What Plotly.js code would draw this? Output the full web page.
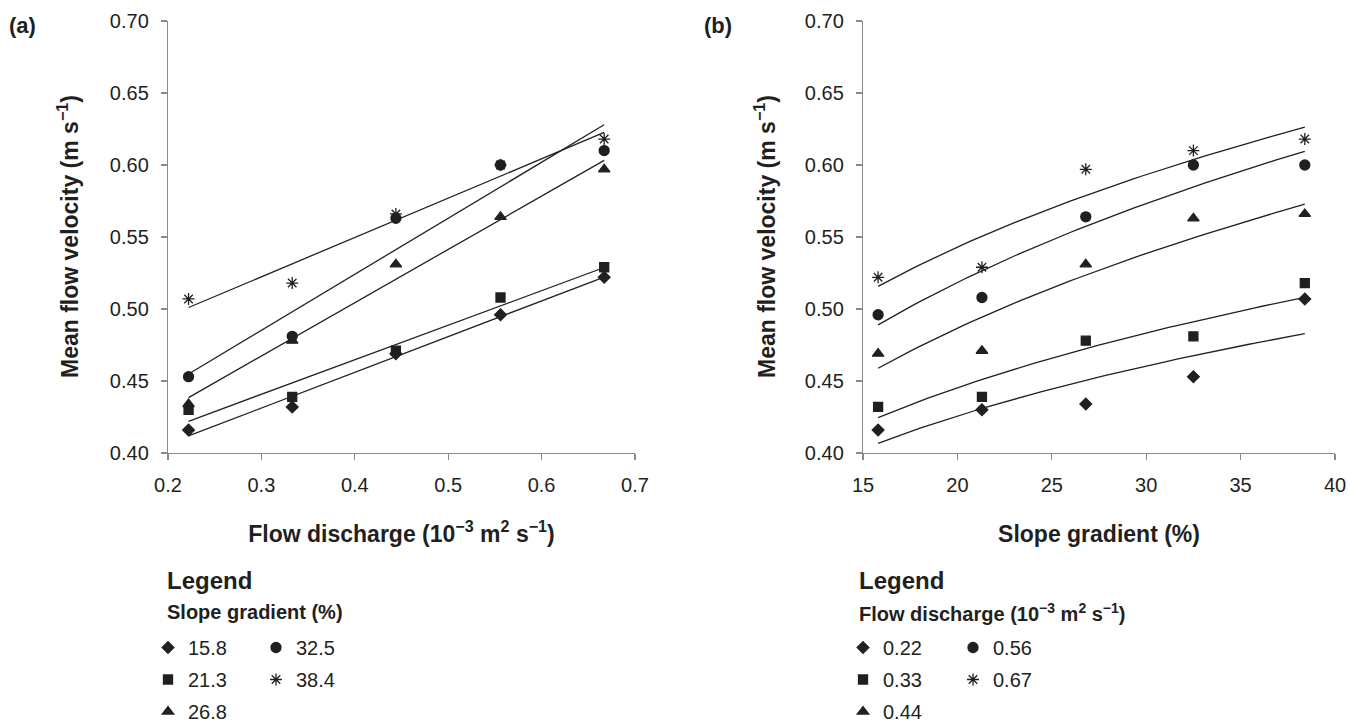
<!DOCTYPE html>
<html>
<head>
<meta charset="utf-8">
<script src="https://cdn.plot.ly/plotly-3.0.1.min.js"></script>
<style>html,body{margin:0;padding:0;background:#fff;}#chart{width:1350px;height:723px;}</style>
</head>
<body>
<div id="chart"></div>
<script>
// ---- data ----
const discharge = [0.222, 0.333, 0.444, 0.556, 0.667];      // 10^-3 m2 s-1
const slopeGradient = [15.8, 21.3, 26.8, 32.5, 38.4];       // %
// mean flow velocity (m s-1) for each slope gradient, across discharges
const vSlope158 = [0.416, 0.432, 0.469, 0.496, 0.522];
const vSlope213 = [0.430, 0.439, 0.471, 0.508, 0.529];
const vSlope268 = [0.434, 0.478, 0.531, 0.564, 0.597];
const vSlope325 = [0.453, 0.481, 0.563, 0.600, 0.610];
const vSlope384 = [0.507, 0.518, 0.566, 0.600, 0.618];
const slopeLabels = ['15.8', '21.3', '26.8', '32.5', '38.4'];
const dischargeLabels = ['0.22', '0.33', '0.44', '0.56', '0.67'];
const yTicks = [0.40, 0.45, 0.50, 0.55, 0.60, 0.65, 0.70];
const xTicksA = [0.2, 0.3, 0.4, 0.5, 0.6, 0.7];
const xTicksB = [15, 20, 25, 30, 35, 40];

// ---- styling ----
const INK = '#231f20';
const AXC = '#8a8a8a';
const FAM = 'Liberation Sans, Arial, sans-serif';
const symbols = ['diamond', 'square', 'triangle-up', 'circle', 'asterisk-open'];
const sizes = [9, 9, 10, 10, 10];
const tickFont = {family: FAM, size: 20, color: INK};
const titleFont = {family: FAM, size: 23, color: INK, weight: 'bold'};

const bySlope = [vSlope158, vSlope213, vSlope268, vSlope325, vSlope384];
// velocity for each discharge across slope gradients (same measurements, transposed)
const byDischarge = discharge.map((_, j) => bySlope.map(row => row[j]));

function linFit(xs, ys) {
  const n = xs.length, mx = xs.reduce((a, b) => a + b) / n, my = ys.reduce((a, b) => a + b) / n;
  let sxy = 0, sxx = 0;
  for (let i = 0; i < n; i++) { sxy += (xs[i] - mx) * (ys[i] - my); sxx += (xs[i] - mx) ** 2; }
  const b = sxy / sxx; return {a: my - b * mx, b: b};
}
function powFit(xs, ys) { // y = A x^b  (least squares on logs)
  const f = linFit(xs.map(Math.log), ys.map(Math.log));
  return {A: Math.exp(f.a), b: f.b};
}

const traces = [];
const legendNames = ['legend', 'legend', 'legend', 'legend2', 'legend2'];
const legendNamesB = ['legend3', 'legend3', 'legend3', 'legend4', 'legend4'];

// panel (a): linear trend lines
bySlope.forEach((ys, i) => {
  const f = linFit(discharge, ys);
  const x0 = Math.min(...discharge), x1 = Math.max(...discharge);
  traces.push({x: [x0, x1], y: [f.a + f.b * x0, f.a + f.b * x1], mode: 'lines', xaxis: 'x', yaxis: 'y',
    line: {color: INK, width: 1.3}, showlegend: false, hoverinfo: 'skip'});
});
bySlope.forEach((ys, i) => {
  traces.push({x: discharge, y: ys, mode: 'markers', xaxis: 'x', yaxis: 'y', name: slopeLabels[i],
    legend: legendNames[i], legendgroup: 'a' + i,
    marker: {symbol: symbols[i], size: sizes[i], color: INK, line: {color: INK, width: 1.3}}});
});

// panel (b): power trend curves
const xs0 = Math.min(...slopeGradient), xs1 = Math.max(...slopeGradient);
const curveX = [];
for (let k = 0; k <= 60; k++) curveX.push(xs0 + (xs1 - xs0) * k / 60);
byDischarge.forEach((ys, j) => {
  const f = powFit(slopeGradient, ys);
  traces.push({x: curveX, y: curveX.map(x => f.A * Math.pow(x, f.b)), mode: 'lines', xaxis: 'x2', yaxis: 'y2',
    line: {color: INK, width: 1.3}, showlegend: false, hoverinfo: 'skip'});
});
byDischarge.forEach((ys, j) => {
  traces.push({x: slopeGradient, y: ys, mode: 'markers', xaxis: 'x2', yaxis: 'y2', name: dischargeLabels[j],
    legend: legendNamesB[j], legendgroup: 'b' + j,
    marker: {symbol: symbols[j], size: sizes[j], color: INK, line: {color: INK, width: 1.3}}});
});

const W = 1350, H = 723;
const px = v => v / W, py = v => 1 - v / H;

function yAxis(anchor) {
  return {domain: [py(453), py(21)], anchor: anchor, range: [0.40, 0.70], tickvals: yTicks, tickformat: '.2f',
    showline: true, linecolor: AXC, linewidth: 1.2, ticks: 'outside', ticklen: 6, tickcolor: AXC, tickwidth: 1.2,
    showgrid: false, zeroline: false, tickfont: tickFont, ticklabelstandoff: 8, automargin: false};
}
function xAxis(domain, anchor, range, ticks, fmt, title) {
  return {domain: domain, anchor: anchor, range: range, tickvals: ticks, tickformat: fmt,
    showline: true, linecolor: AXC, linewidth: 1.2, ticks: 'outside', ticklen: 6, tickcolor: AXC, tickwidth: 1.2,
    showgrid: false, zeroline: false, tickfont: tickFont, ticklabelstandoff: 8, automargin: false,
    title: {text: title, font: titleFont, standoff: 30}};
}
const legFont = {family: FAM, size: 20, color: INK};
function leg(xPix) {
  return {x: px(xPix), xref: 'container', xanchor: 'left', y: py(628), yref: 'container', yanchor: 'top',
    orientation: 'v', font: legFont,
    bgcolor: 'rgba(0,0,0,0)', borderwidth: 0, tracegroupgap: 3, itemclick: false, itemdoubleclick: false};
}
function note(text, xPix, yPix, size) {
  return {text: text, x: px(xPix), y: py(yPix), xref: 'paper', yref: 'paper', xanchor: 'left', yanchor: 'middle',
    showarrow: false, font: {family: FAM, size: size, color: INK}};
}
function yTitle(xPix) {
  return {text: '<b>Mean flow velocity (m s<sup>−1</sup>)</b>', x: px(xPix), y: py(237), xref: 'paper', yref: 'paper',
    xanchor: 'center', yanchor: 'middle', textangle: -90, showarrow: false, font: {family: FAM, size: 23, color: INK}};
}

const layout = {
  width: W, height: H, margin: {l: 0, r: 0, t: 0, b: 0, autoexpand: false},
  paper_bgcolor: '#fff', plot_bgcolor: '#fff', showlegend: true,
  xaxis: xAxis([px(168), px(635)], 'y', [0.2, 0.7], xTicksA, '.1f', 'Flow discharge (10<sup>−3</sup> m<sup>2</sup> s<sup>−1</sup>)'),
  yaxis: yAxis('x'),
  xaxis2: xAxis([px(863), px(1335)], 'y2', [15, 40], xTicksB, 'd', 'Slope gradient (%)'),
  yaxis2: yAxis('x2'),
  legend: leg(148), legend2: leg(256), legend3: leg(843), legend4: leg(953),
  annotations: [
    yTitle(68),
    yTitle(765),
    note('<b>(a)</b>', 7, 26, 22),
    note('<b>(b)</b>', 702, 26, 22),
    note('<b>Legend</b>', 165, 580, 24),
    note('<b>Slope gradient (%)</b>', 165, 612, 20),
    note('<b>Legend</b>', 857, 580, 24),
    note('<b>Flow discharge (10<sup>−3</sup> m<sup>2</sup> s<sup>−1</sup>)</b>', 857, 612, 20)
  ]
};

Plotly.newPlot('chart', traces, layout, {displayModeBar: false, staticPlot: true});
</script>
</body>
</html>
